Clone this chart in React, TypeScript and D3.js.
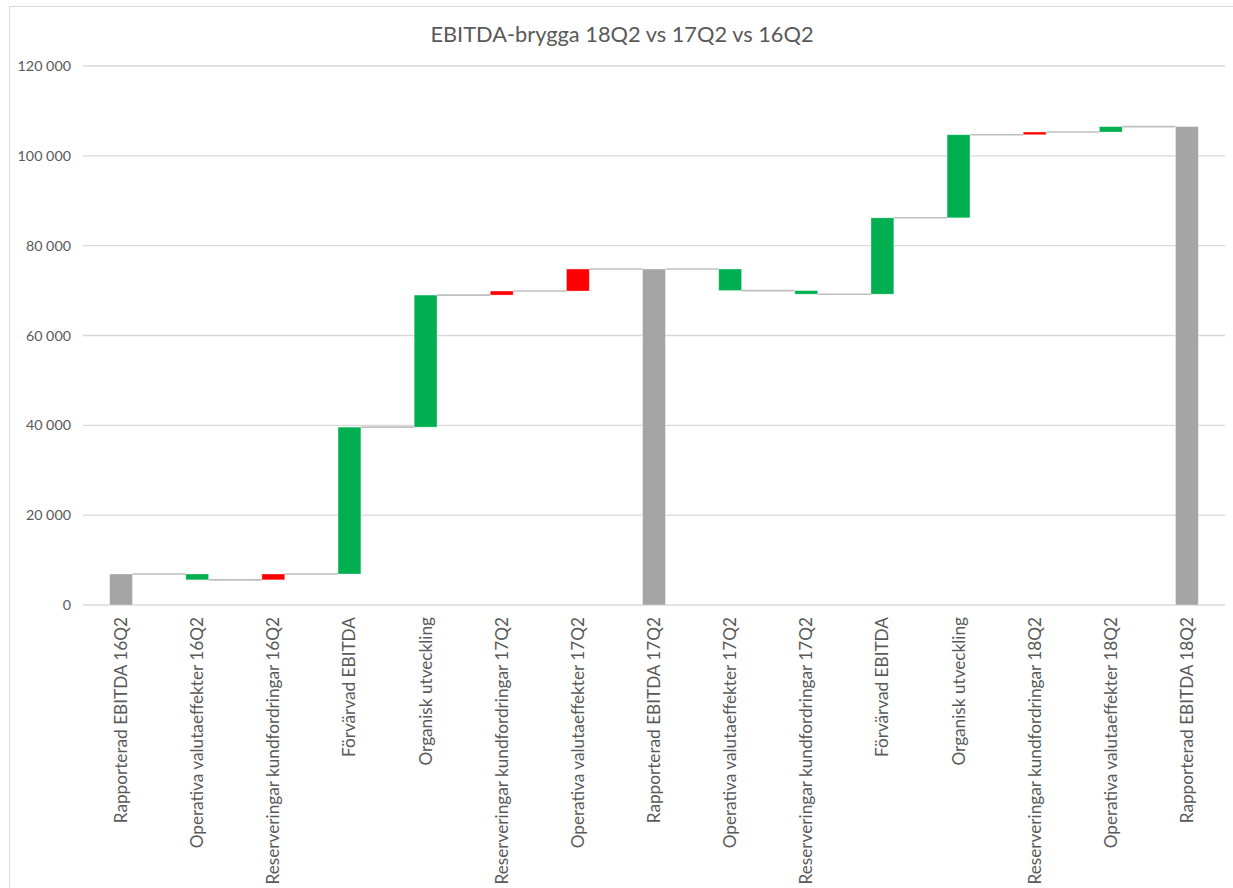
import React from "react";
import * as d3 from "d3";

const title = "EBITDA-brygga 18Q2 vs 17Q2 vs 16Q2";
const categories = [
  "Rapporterad EBITDA 16Q2",
  "Operativa valutaeffekter 16Q2",
  "Reserveringar kundfordringar 16Q2",
  "Förvärvad EBITDA",
  "Organisk utveckling",
  "Reserveringar kundfordringar 17Q2",
  "Operativa valutaeffekter 17Q2",
  "Rapporterad EBITDA 17Q2",
  "Operativa valutaeffekter 17Q2",
  "Reserveringar kundfordringar 17Q2",
  "Förvärvad EBITDA",
  "Organisk utveckling",
  "Reserveringar kundfordringar 18Q2",
  "Operativa valutaeffekter 18Q2",
  "Rapporterad EBITDA 18Q2",
];
// change per step (null = total bar)
const deltas: (number | null)[] = [6900, -1300, 1300, 32700, 29400, 900, 4900, null, -4800, -800, 17000, 18500, 600, 1200, null];
const kinds = ["total", "green", "red", "green", "green", "red", "red", "total", "green", "green", "green", "green", "red", "green", "total"];
const yTicks = [0, 20000, 40000, 60000, 80000, 100000, 120000];

const colors: Record<string, string> = { total: "#a5a5a5", green: "#00b050", red: "#ff0000" };

export default function App() {
  const W = 1233, H = 888;
  const left = 83, right = 1225, top = 66, bottom = 605;
  const x = d3.scaleBand<number>().domain(categories.map((_, i) => i)).range([left, right]).paddingInner(0.7).paddingOuter(0.35);
  const y = d3.scaleLinear().domain([0, 120000]).range([bottom, top]);
  const fmt = (v: number) => d3.format(",")(v).replace(/,/g, " ");

  let run = 0;
  const bars = categories.map((c, i) => {
    const d = deltas[i];
    let y0: number, y1: number;
    if (d === null || i === 0) {
      if (d !== null) run += d;
      y0 = 0; y1 = run;
    } else {
      y0 = run; run += d; y1 = run;
    }
    return { i, y0, y1, level: run, kind: kinds[i] };
  });

  const font = "Lato, sans-serif";
  return (
    <svg width={W} height={H} style={{ position: "absolute", left: 0, top: 0, background: "#fff" }} fontFamily={font}>
      <rect x={9.5} y={6.5} width={1300} height={1000} fill="#fff" stroke="#d9d9d9" strokeWidth={1} />
      <text x={622} y={42} textAnchor="middle" fontSize={21.8} fill="#595959">{title}</text>
      {yTicks.map((t) => (
        <g key={t}>
          <line x1={left} x2={right} y1={y(t)} y2={y(t)} stroke="#d9d9d9" strokeWidth={1.3} />
          <text x={71} y={y(t) + 5} textAnchor="end" fontSize={14.3} fill="#595959">{fmt(t)}</text>
        </g>
      ))}
      {bars.map((b, i) => {
        if (i === bars.length - 1) return null;
        const nx = x(i + 1)!;
        return (
          <line key={"c" + i} x1={x(i)! + x.bandwidth()} x2={nx} y1={y(b.level)} y2={y(b.level)} stroke="#bfbfbf" strokeWidth={1.6} />
        );
      })}
      {bars.map((b) => (
        <rect key={b.i} x={x(b.i)} width={x.bandwidth()} y={y(Math.max(b.y0, b.y1))} height={Math.abs(y(b.y0) - y(b.y1))}
          fill={colors[b.kind]} stroke="#ffffff" strokeOpacity={0.4} strokeWidth={0.8} />
      ))}
      {categories.map((c, i) => {
        const cx = x(i)! + x.bandwidth() / 2;
        return (
          <text key={"l" + i} transform={`translate(${cx + 6},${617}) rotate(-90)`} textAnchor="end" fontSize={17.2} fill="#595959">{c}</text>
        );
      })}
    </svg>
  );
}
